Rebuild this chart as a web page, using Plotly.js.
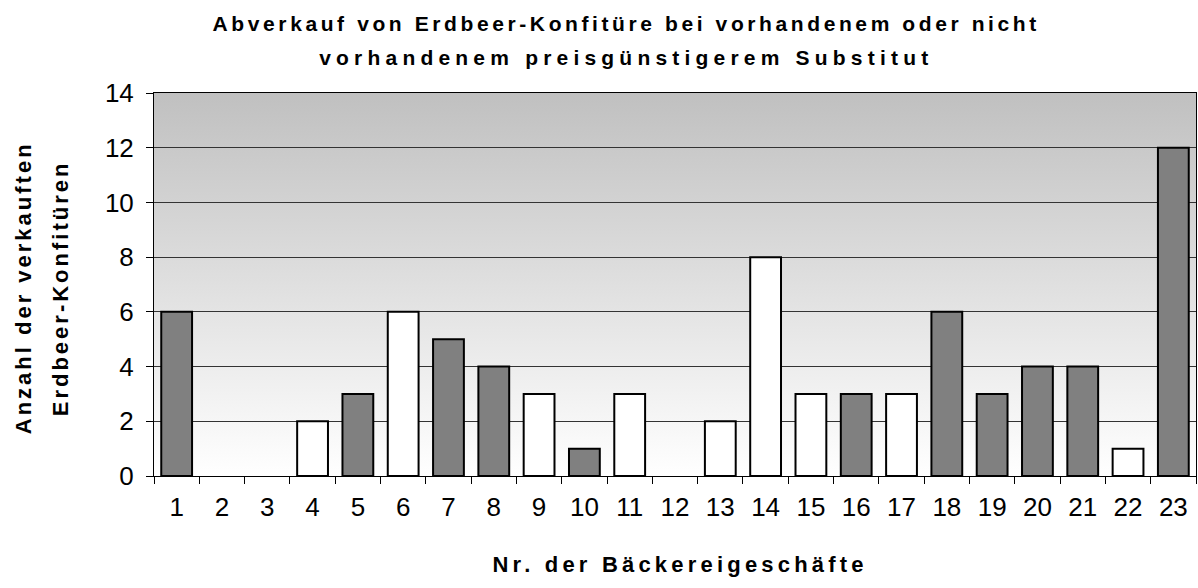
<!DOCTYPE html>
<html>
<head>
<meta charset="utf-8">
<script src="https://cdn.plot.ly/plotly-3.0.1.min.js"></script>
<style>
html,body{margin:0;padding:0;background:#fff;}
#chart{width:1198px;height:588px;}
g.annotation[data-index="0"] text{letter-spacing:3.6px;}
g.annotation[data-index="1"] text{letter-spacing:5.2px;}
g.annotation[data-index="2"] text, g.annotation[data-index="3"] text{letter-spacing:3px;}
g.annotation[data-index="4"] text{letter-spacing:4.2px;}
</style>
</head>
<body>
<div id="chart"></div>
<script>
const categories = ['1','2','3','4','5','6','7','8','9','10','11','12','13','14','15','16','17','18','19','20','21','22','23'];
const values = [6,0,0,2,3,6,5,4,3,1,3,0,2,8,3,3,3,6,3,4,4,1,12];
// g = grey bar, w = white bar
const barKind = ['g','g','g','w','g','w','g','g','w','g','w','g','w','w','w','g','w','g','g','g','g','w','g'];
const yTicks = [0,2,4,6,8,10,12,14];
const titleLines = ['Abverkauf von Erdbeer-Konfitüre bei vorhandenem oder nicht', 'vorhandenem preisgünstigerem Substitut'];
const yTitleLines = ['Anzahl der verkauften', 'Erdbeer-Konfitüren'];
const xTitle = 'Nr. der Bäckereigeschäfte';

const colorMap = {g:'#808080', w:'#ffffff'};

const gradSvg = '<svg xmlns="http://www.w3.org/2000/svg" width="10" height="100" preserveAspectRatio="none">' +
  '<defs><linearGradient id="g" x1="0" y1="0" x2="0" y2="1">' +
  '<stop offset="0" stop-color="#c0c0c0"/><stop offset="1" stop-color="#ffffff"/>' +
  '</linearGradient></defs><rect width="10" height="100" fill="url(#g)"/></svg>';
const gradUri = 'data:image/svg+xml;base64,' + btoa(gradSvg);

const font = 'Liberation Sans, Arial, sans-serif';

const trace = {
  type:'bar',
  x: categories,
  y: values,
  marker:{
    color: barKind.map(k=>colorMap[k]),
    line:{color:'#000', width: values.map(v => v > 0 ? 2 : 0)}
  },
  width: 0.68,
  hoverinfo:'x+y'
};

function ann(text, x, y, size, angle){
  return {text:text, xref:'paper', yref:'paper', x:x, y:y, xanchor:'center', yanchor:'middle',
          showarrow:false, textangle:angle||0, align:'center',
          font:{family:font, size:size, color:'#000', weight:'bold'}};
}

const layout = {
  width:1198, height:588,
  margin:{l:154, r:2, t:93, b:112},
  paper_bgcolor:'#ffffff',
  plot_bgcolor:'rgba(0,0,0,0)',
  showlegend:false,
  xaxis:{
    type:'category',
    tickson:'boundaries',
    ticks:'outside', ticklen:7, tickcolor:'#000', tickwidth:1,
    showline:true, linecolor:'#000', linewidth:1, mirror:true,
    showgrid:false,
    tickangle:0,
    tickfont:{family:font, size:26, color:'#000'},
    ticklabelstandoff:8,
    fixedrange:true
  },
  yaxis:{
    range:[0,14],
    tickvals:yTicks,
    ticktext:yTicks.map(String),
    ticks:'outside', ticklen:7, tickcolor:'#000', tickwidth:1,
    showline:true, linecolor:'#000', linewidth:1, mirror:true,
    showgrid:true, gridcolor:'#333333', gridwidth:1,
    zeroline:false,
    tickfont:{family:font, size:26, color:'#000'},
    ticklabelstandoff:7,
    fixedrange:true
  },
  bargap:0.32,
  annotations:[
    ann(titleLines[0], 0.453, 1.181, 21),
    ann(titleLines[1], 0.453, 1.0922, 21),
    ann(yTitleLines[0], -0.125, 0.4909, 22, -90),
    ann(yTitleLines[1], -0.089, 0.4909, 22, -90),
    ann(xTitle, 0.5048, -0.2308, 22)
  ],
  images:[{
    source: gradUri,
    xref:'x domain', yref:'y domain',
    x:0, y:1, sizex:1, sizey:1,
    xanchor:'left', yanchor:'top',
    sizing:'stretch', layer:'below'
  }]
};

Plotly.newPlot('chart', [trace], layout, {displayModeBar:false, staticPlot:true});
</script>
</body>
</html>
